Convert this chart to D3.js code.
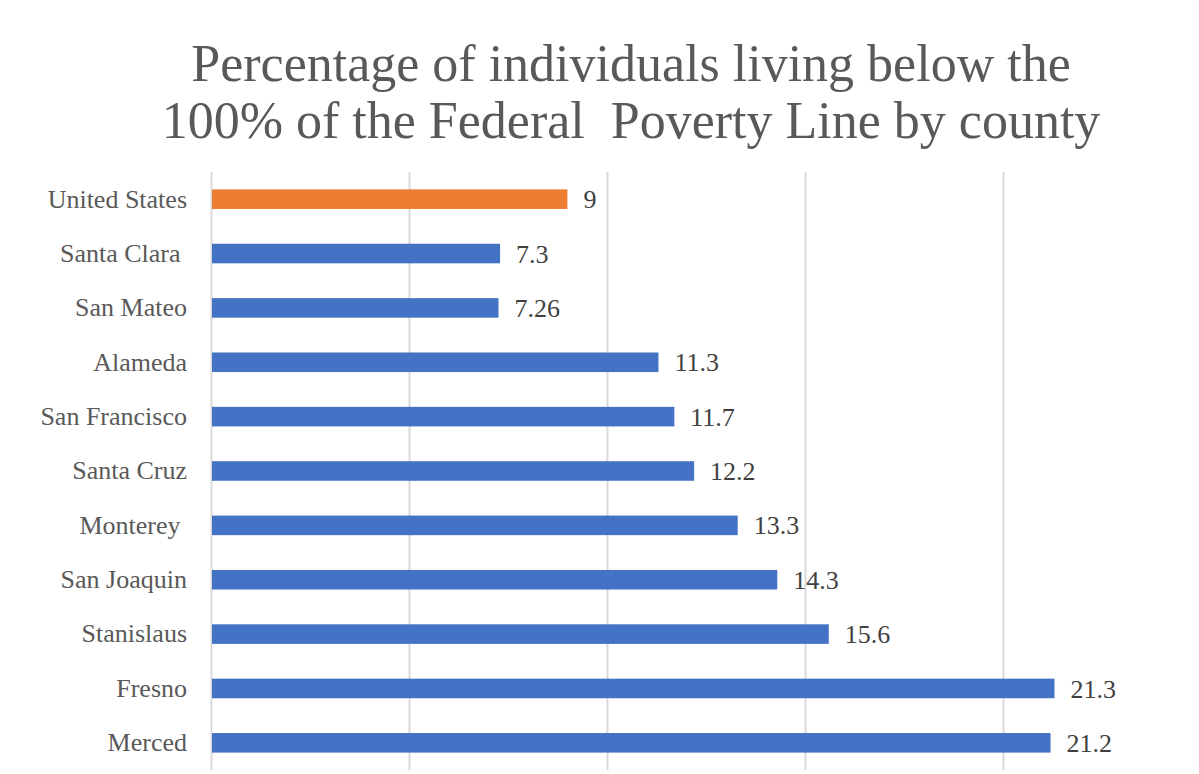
<!DOCTYPE html>
<html><head><meta charset="utf-8"><script src="https://cdn.jsdelivr.net/npm/d3@7"></script></head>
<body style="margin:0">
<svg id="poverty" width="1199" height="774"></svg>
<script>
// County poverty rates (% below 100% of the Federal Poverty Line)
const counties = ["United States", "Santa Clara ", "San Mateo", "Alameda", "San Francisco",
  "Santa Cruz", "Monterey ", "San Joaquin", "Stanislaus", "Fresno", "Merced"];
const values = [9, 7.3, 7.26, 11.3, 11.7, 12.2, 13.3, 14.3, 15.6, 21.3, 21.2];
const labels = ["9", "7.3", "7.26", "11.3", "11.7", "12.2", "13.3", "14.3", "15.6", "21.3", "21.2"];
const gridTicks = [0, 5, 10, 15, 20];
const titleLines = ["Percentage of individuals living below the",
  "100% of the Federal  Poverty Line by county"];

const rows = counties.map((c, i) => ({ county: c, value: values[i], label: labels[i], idx: i }));

const svg = d3.select("#poverty");
const serif = "\"Liberation Serif\", serif";

const plot = { left: 211, right: 1003, top: 172, bottom: 770 };

const x = d3.scaleLinear().domain([0, 20]).range([plot.left, plot.right]);
const y = d3.scaleBand().domain(rows.map(d => d.idx)).range([plot.top, plot.bottom]).paddingInner(0.64).paddingOuter(0.32);

// Title, two centred lines
svg.selectAll("text.title")
  .data(titleLines)
  .join("text")
  .attr("class", "title")
  .attr("x", 631)
  .attr("y", (d, i) => 81 + i * 57)
  .attr("text-anchor", "middle")
  .style("font-family", serif)
  .style("font-size", "52px")
  .style("white-space", "pre")
  .attr("fill", "#595959")
  .text(d => d);

// Vertical gridlines
svg.append("g")
  .attr("transform", `translate(0,${plot.bottom})`)
  .call(d3.axisBottom(x).tickValues(gridTicks).tickSize(-(plot.bottom - plot.top)).tickFormat(""))
  .call(g => g.select(".domain").remove())
  .call(g => g.selectAll(".tick line").attr("stroke", "#d9d9d9").attr("stroke-width", 2));

// Bars
svg.append("g")
  .selectAll("rect")
  .data(rows)
  .join("rect")
  .attr("x", x(0) + 1)
  .attr("y", d => y(d.idx))
  .attr("width", d => x(d.value) - x(0) - 1)
  .attr("height", y.bandwidth())
  .attr("fill", d => d.idx === 0 ? "#ed7d31" : "#4472c4");

// Category labels
svg.append("g")
  .attr("transform", `translate(${plot.left},0)`)
  .call(d3.axisLeft(y).tickSize(0).tickPadding(24).tickFormat(i => counties[i]))
  .call(g => g.select(".domain").remove())
  .call(g => g.selectAll("text")
    .style("font-family", serif)
    .style("font-size", "26px")
    .style("white-space", "pre")
    .attr("fill", "#595959"));

// Value labels at the bar ends
svg.append("g")
  .selectAll("text")
  .data(rows)
  .join("text")
  .attr("x", d => x(d.value) + 16)
  .attr("y", d => y(d.idx) + y.bandwidth() / 2)
  .attr("dy", "0.35em")
  .style("font-family", serif)
  .style("font-size", "26px")
  .attr("fill", "#404040")
  .text(d => d.label);
</script>
</body>
</html>
